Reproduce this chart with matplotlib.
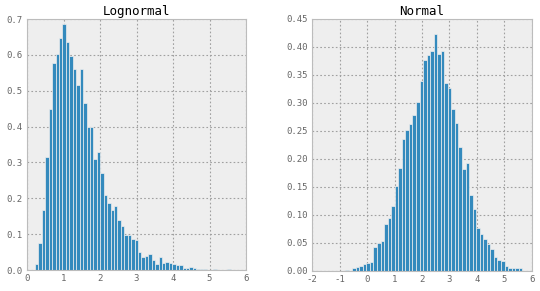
import numpy as np
import matplotlib
matplotlib.use("Agg")
import matplotlib.pyplot as plt

# ---- data (histogram densities) ----
logn_start = 0.22
logn_width = 0.094
logn_values = [0.016, 0.075, 0.167, 0.315, 0.449, 0.577, 0.602, 0.648, 0.686, 0.635,
               0.596, 0.560, 0.517, 0.560, 0.466, 0.400, 0.400, 0.311, 0.330, 0.270,
               0.209, 0.188, 0.167, 0.179, 0.139, 0.124, 0.099, 0.099, 0.086, 0.084,
               0.051, 0.036, 0.039, 0.044, 0.028, 0.016, 0.036, 0.021, 0.023, 0.021,
               0.016, 0.015, 0.015, 0.007, 0.007, 0.009, 0.005, 0.004, 0.003, 0.003,
               0.001, 0.000, 0.002, 0.000, 0.000, 0.000, 0.002]

norm_start = -0.8
norm_width = 0.129
norm_values = [0.002, 0.000, 0.005, 0.007, 0.009, 0.012, 0.014, 0.016, 0.042, 0.049,
               0.053, 0.084, 0.094, 0.116, 0.152, 0.183, 0.236, 0.251, 0.262, 0.279,
               0.301, 0.340, 0.376, 0.385, 0.393, 0.423, 0.387, 0.392, 0.335, 0.326,
               0.290, 0.265, 0.222, 0.182, 0.192, 0.136, 0.110, 0.076, 0.066, 0.057,
               0.048, 0.040, 0.024, 0.020, 0.017, 0.008, 0.006, 0.006, 0.006, 0.005]

titles = ["Lognormal", "Normal"]
logn_xticks = [0, 1, 2, 3, 4, 5, 6]
logn_yticks = [0.0, 0.1, 0.2, 0.3, 0.4, 0.5, 0.6, 0.7]
norm_xticks = [-2, -1, 0, 1, 2, 3, 4, 5, 6]
norm_yticks = [0.00, 0.05, 0.10, 0.15, 0.20, 0.25, 0.30, 0.35, 0.40, 0.45]

BAR = "#348ABD"
BG = "#eeeeee"

fig = plt.figure(figsize=(5.4, 2.91), dpi=100)
ax1 = fig.add_axes([0.050, 0.072, 0.4056, 0.8625])
ax2 = fig.add_axes([0.578, 0.069, 0.407, 0.866])

def style(ax, title, xticks, yticks, yfmt):
    ax.set_facecolor(BG)
    for s in ax.spines.values():
        s.set_color("#bcbcbc")
        s.set_linewidth(0.8)
    ax.set_axisbelow(True)
    ax.grid(True, color="#a0a0a0", linestyle=(0, (1.5, 2)), linewidth=0.8)
    ax.set_xticks(xticks)
    ax.set_yticks(yticks)
    ax.set_xticklabels([str(t) for t in xticks])
    ax.set_yticklabels([yfmt % t for t in yticks])
    ax.tick_params(length=0, labelsize=6.5, labelcolor="#666666", pad=3,
                   labelfontfamily="DejaVu Sans Mono")
    ax.set_title(title, fontsize=9, family="DejaVu Sans Mono", pad=3)

e1 = logn_start + logn_width * np.arange(len(logn_values))
ax1.bar(e1, logn_values, width=logn_width, align="edge", color=BAR,
        edgecolor=BG, linewidth=0.5)
ax1.set_xlim(0, 6)
ax1.set_ylim(0, 0.7)
style(ax1, titles[0], logn_xticks, logn_yticks, "%.1f")

e2 = norm_start + norm_width * np.arange(len(norm_values))
ax2.bar(e2, norm_values, width=norm_width, align="edge", color=BAR,
        edgecolor=BG, linewidth=0.5)
ax2.set_xlim(-2, 6)
ax2.set_ylim(0, 0.45)
style(ax2, titles[1], norm_xticks, norm_yticks, "%.2f")

fig.savefig("out.png", dpi=100)
